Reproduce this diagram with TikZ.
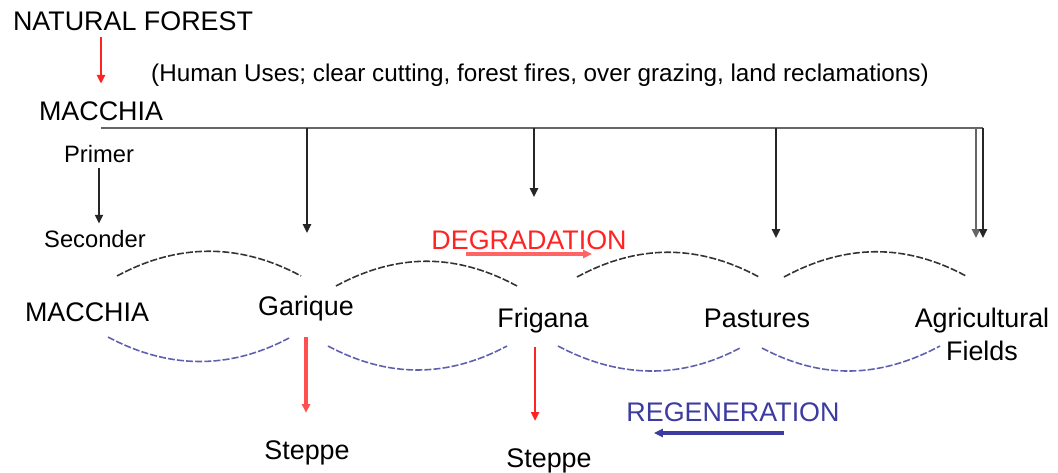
\documentclass[tikz,border=0pt]{standalone}
\usepackage{fontspec}
\setmainfont{Liberation Sans}
\usetikzlibrary{positioning,arrows.meta}
\definecolor{degred}{RGB}{255,35,35}
\definecolor{regblue}{RGB}{60,60,160}
\definecolor{arcblue}{RGB}{95,95,175}
\tikzset{
	>={Triangle[length=5pt,width=4.5pt]}, % small solid arrow heads
	lbl/.style={anchor=base, text=black, font=\fontsize{15.3}{18}\selectfont}, % the big labels
	small/.style={anchor=base, text=black, font=\fontsize{13.5}{16}\selectfont}, % Primer / Seconder
	bus/.style={draw=black!60, line width=1.2pt}, % the long line under MACCHIA
	drop/.style={->, draw=black!85, line width=1.2pt}, % arrows hanging from the line
	redarr/.style={->, draw=degred, line width=1.6pt}, % degradation arrows
	toparc/.style={draw=black!80, line width=0.9pt, dash pattern=on 4pt off 1.2pt}, % upper waves
	botarc/.style={draw=arcblue, line width=0.9pt, dash pattern=on 4pt off 1.2pt}, % lower waves
}
\begin{document}
\begin{tikzpicture}[x=0.02cm,y=-0.02cm]
	\useasboundingbox (0,0) rectangle (1058,473);

	% top part
	\node[lbl] (forest) at (133,31) {NATURAL FOREST};
	\node[small, font=\fontsize{13.8}{16}\selectfont] (uses) at (540,82) {(Human Uses; clear cutting, forest fires, over grazing, land reclamations)};
	\node[lbl] (mac) at (101,121) {MACCHIA};
	\node[small] (primer) at (99,162) {Primer};
	\node[small] (second) at (95,247) {Seconder};
	\node[lbl, text=degred] (degr) at (529,249) {DEGRADATION};

	% the row of stages
	\node[lbl] (mac2) at (87,321) {MACCHIA};
	\node[lbl] (gar) at (306,315) {Garique};
	\node[lbl] (fri) at (543,327) {Frigana};
	\node[lbl] (past) at (757,327) {Pastures};
	\node[lbl] (agri) at (982,327) {Agricultural};
	\node[lbl, below=-2pt of agri] (fields) {Fields};
	\node[lbl] (step1) at (307,459) {Steppe};
	\node[lbl] (step2) at (549,467) {Steppe};
	\node[lbl, text=regblue] (regen) at (733,421) {REGENERATION};

	\coordinate (busend) at (983,128);
	\coordinate (d1) at (307,233);
	\coordinate (d2) at (534,197);
	\coordinate (d3) at (776,238);
	\coordinate (d4) at (976,238);
	\coordinate (d5) at (983,238);
	\coordinate (dgA) at (466,254);
	\coordinate (dgB) at (592,254);
	\coordinate (rgA) at (784,433);
	\coordinate (rgB) at (654,433);

	\draw[redarr] (forest.south -| mac.center) -- ([yshift=7pt]mac.north);
	\draw[bus] (mac.south |- busend) -- (busend);
	\draw[drop] (d1 |- busend) -- (d1);
	\draw[drop] (d2 |- busend) -- (d2);
	\draw[drop] (d3 |- busend) -- (d3);
	\draw[drop, draw=black!60] (d4 |- busend) -- (d4);
	\draw[drop] (d5 |- busend) -- (d5);
	\draw[drop] (primer.south) -- (primer.south |- second.north);

	\draw[redarr, draw=degred!70, line width=1.8pt] (dgA) -- (dgB);
	\draw[->, draw=regblue, line width=2.2pt] (rgA) -- (rgB);

	\draw[redarr, draw=degred!80, line width=1.8pt, shorten <=6pt, shorten >=12pt] (gar.south) -- (gar.south |- step1.north);
	\draw[redarr, line width=1.2pt, shorten <=4.5pt, shorten >=12pt] ([xshift=-4.5pt]fri.south) -- ([xshift=-4.5pt]fri.south |- step2.north);

	% the waves
	\foreach \xa/\ya/\xb/\yb in {117/276/301/276, 336/286/517/286, 577/277/759/277, 784/277/966/276}
		\draw[toparc] (\xa,\ya) .. controls +(61,-33) and +(-61,-33) .. (\xb,\yb);
	\foreach \xa/\ya/\xb/\yb in {108/337/289/338, 328/346/507/346, 558/346/740/348, 762/348/940/346}
		\draw[botarc] (\xa,\ya) .. controls +(60,32) and +(-60,32) .. (\xb,\yb);
\end{tikzpicture}
\end{document}
